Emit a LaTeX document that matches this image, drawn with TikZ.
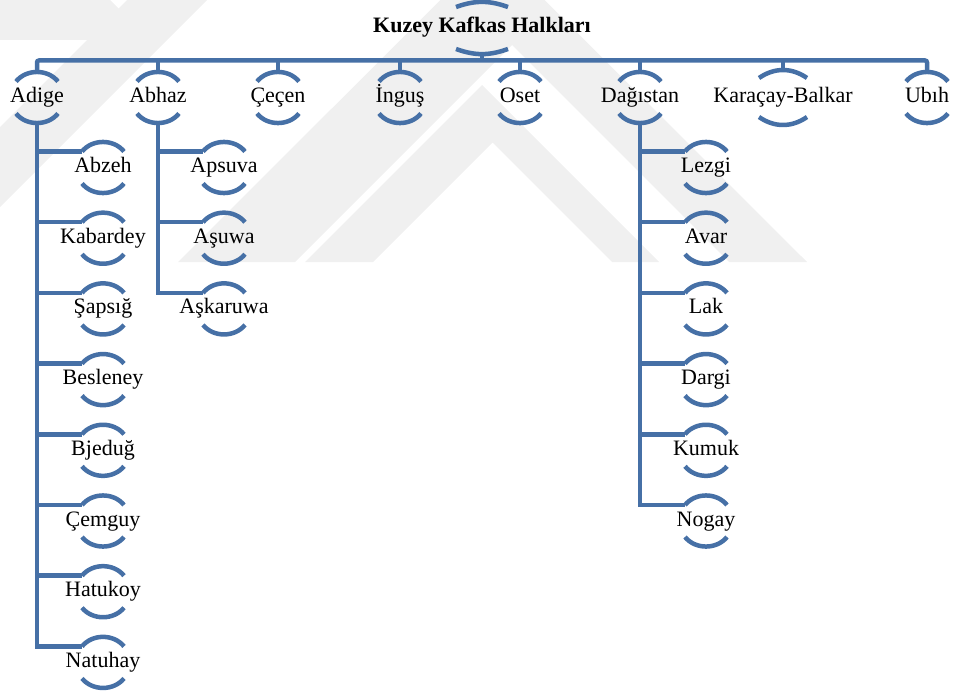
\documentclass[tikz,border=0pt]{standalone}
\usepackage{fontspec}
\setmainfont{Liberation Serif}
\usetikzlibrary{positioning}
\definecolor{kblue}{RGB}{70,112,166}
\definecolor{wmark}{RGB}{240,240,240}
\tikzset{
	every node/.style = {font=\fontsize{22}{26}\selectfont, inner sep=0pt, text height=14pt, text depth=4pt},
	title/.style = {font=\fontsize{22}{26}\selectfont\bfseries},
	line/.style = {draw=kblue, line width=4.5pt},
	arcline/.style = {draw=kblue, line width=4.5pt}
}
% node, half height, half width, sag
\newcommand{\brackets}[4]{%
	\pgfmathsetmacro{\bang}{2*atan(#4/#3)}
	\pgfmathsetmacro{\bin}{180-\bang}
	\pgfmathsetmacro{\bout}{180+\bang}
	\coordinate (#1-t) at ([yshift=#2]#1.center);
	\coordinate (#1-b) at ([yshift=-#2]#1.center);
	\coordinate (#1-l) at ([shift={(-#3,#2-#4)}]#1.center);
	\draw[arcline] (#1-l) to[out=\bang,in=\bin] ([shift={(#3,#2-#4)}]#1.center);
	\draw[arcline] ([shift={(-#3,-#2+#4)}]#1.center) to[out=-\bang,in=\bout] ([shift={(#3,-#2+#4)}]#1.center);
}

\begin{document}
\begin{tikzpicture}[x=1pt,y=1pt]
		\useasboundingbox (0,0) rectangle (963,-693);
		% watermark
		\fill[wmark] (178,-262) -- (492.5,52) -- (807,-262) -- (729,-262) -- (512,-45) -- (295,-262) -- cycle;
		\fill[wmark] (305,-262) -- (482,-85) -- (659,-262) -- (612,-262) -- (492.5,-142.5) -- (373,-262) -- cycle;
		\fill[wmark] (0,-127) -- (127,0) -- (207,0) -- (0,-207) -- cycle;
		\fill[wmark] (0,0) -- (110,0) -- (150,-40) -- (0,-40) -- cycle;

		\node[title] (kkh) at (482,-28) {Kuzey Kafkas Halkları};

		\foreach \n/\x/\t in {adige/37/Adige, abhaz/158/Abhaz, cecen/278/Çeçen, ingus/400/İnguş,
			oset/520/Oset, dagistan/640/Dağıstan, karacay/783/Karaçay-Balkar, ubih/927/Ubıh}
			\node (\n) at (\x,-97.5) {\t};

		\foreach \n/\t [count=\i from 0] in {abzeh/Abzeh, kabardey/Kabardey, sapsig/Şapsığ, besleney/Besleney,
			bjedug/Bjeduğ, cemguy/Çemguy, hatukoy/Hatukoy, natuhay/Natuhay}
			\node (\n) at (103,{-167.5-70.7*\i}) {\t};
		\foreach \n/\t [count=\i from 0] in {apsuva/Apsuva, asuwa/Aşuwa, askaruwa/Aşkaruwa}
			\node (\n) at (224,{-167.5-70.7*\i}) {\t};
		\foreach \n/\t [count=\i from 0] in {lezgi/Lezgi, avar/Avar, lak/Lak, dargi/Dargi, kumuk/Kumuk, nogay/Nogay}
			\node (\n) at (706,{-167.5-70.7*\i}) {\t};

		% brackets
		\brackets{kkh}{25.5}{26}{4.5}
		\brackets{karacay}{27}{24}{7.5}
		\foreach \n in {adige, abhaz, cecen, ingus, oset, dagistan, ubih,
			abzeh, kabardey, sapsig, besleney, bjedug, cemguy, hatukoy, natuhay,
			apsuva, asuwa, askaruwa, lezgi, avar, lak, dargi, kumuk, nogay}
			{\brackets{\n}{26}{21}{10}}

		% bus
		\coordinate (bus) at ([yshift=11]adige-t);
		\draw[line, rounded corners=2pt] (adige-t) |- (bus -| ubih-t) -- (ubih-t);
		\draw[line] (kkh-b) -- (kkh-b |- bus);
		\foreach \n in {abhaz, cecen, ingus, oset, dagistan, karacay}
			\draw[line] (\n-t) -- (\n-t |- bus);

		% branches
		\draw[line] (adige-b) |- (natuhay-l);
		\foreach \n in {abzeh, kabardey, sapsig, besleney, bjedug, cemguy, hatukoy}
			\draw[line] (adige-b |- \n-l) -- (\n-l);
		\draw[line] (abhaz-b) |- (askaruwa-l);
		\foreach \n in {apsuva, asuwa}
			\draw[line] (abhaz-b |- \n-l) -- (\n-l);
		\draw[line] (dagistan-b) |- (nogay-l);
		\foreach \n in {lezgi, avar, lak, dargi, kumuk}
			\draw[line] (dagistan-b |- \n-l) -- (\n-l);
	\end{tikzpicture}
\end{document}
